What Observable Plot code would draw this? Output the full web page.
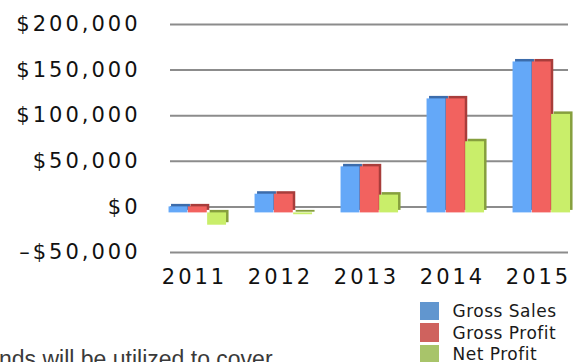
<!DOCTYPE html>
<html>
<head>
<meta charset="utf-8">
<script src="https://cdn.jsdelivr.net/npm/d3@7"></script>
<script src="https://cdn.jsdelivr.net/npm/@observablehq/plot@0.6"></script>
<style>
html, body { margin: 0; padding: 0; background: #fff; overflow: hidden; width: 582px; height: 362px; }
#wrap { position: relative; width: 582px; height: 362px; overflow: hidden; }
#chart { position: absolute; left: 0; top: 0; }
#legend { position: absolute; left: 420px; top: 300px; font-family: "DejaVu Sans", sans-serif; font-size: 17px; line-height: 20px; letter-spacing: 0.5px; color: #1a1a1a; }
#legend .row { display: flex; align-items: center; height: 21.7px; }
#legend .sw { width: 19px; height: 18.3px; margin-right: 13.5px; flex: none; }
#caption { position: absolute; left: -1px; top: 348px; font-family: "Liberation Sans", Arial, sans-serif; font-size: 23px; line-height: 23px; color: #3a3a3a; white-space: nowrap; }
</style>
</head>
<body>
<div id="wrap">
  <div id="chart"></div>
  <div id="legend"></div>
  <div id="caption">nds will be utilized to cover</div>
</div>
<script>
// ---- data ----
const years = ["2011", "2012", "2013", "2014", "2015"];
const grossSales = [6600, 20500, 50500, 125000, 165500];
const grossProfit = [6600, 20500, 50500, 125000, 165500];
const netProfit = [-13500, -2000, 19500, 78000, 108000];
const seriesNames = ["Gross Sales", "Gross Profit", "Net Profit"];
const yTicks = [-50000, 0, 50000, 100000, 150000, 200000];

// ---- styling per series ----
const seriesValues = [grossSales, grossProfit, netProfit];
const frontColors = ["#64a8f8", "#f2625f", "#c9ee6a"];
const sideColors = ["#3c6cab", "#a83d3b", "#869f3e"];
const swatchColors = ["#6196cf", "#cf625e", "#a8c46a"];
const offsets = [-16, 3.3, 22.6];

const inset = 33.55;
const marks = [Plot.ruleY(yTicks, {stroke: "#8c8c8c", strokeWidth: 2})];

seriesNames.forEach((name, k) => {
  const rows = years.map((year, i) => ({year, value: seriesValues[k][i], series: name}));
  marks.push(Plot.barY(rows, {x: "year", y: "value", fill: sideColors[k], dx: offsets[k] + 2.5, dy: 6 - 2.5, insetLeft: inset, insetRight: inset}));
  marks.push(Plot.barY(rows, {x: "year", y: "value", fill: frontColors[k], dx: offsets[k], dy: 6, insetLeft: inset, insetRight: inset}));
});

const fmt = d => d === 0 ? "$0" : (d < 0 ? "\u2013$" : "$") + d3.format(",")(Math.abs(d));

marks.push(Plot.axisY({ticks: yTicks, tickSize: 0, tickPadding: 30, tickFormat: fmt, fill: "#111", label: null}));
marks.push(Plot.axisX({tickSize: 0, tickPadding: 17, fill: "#111", label: null}));

const plot = Plot.plot({
  width: 582,
  height: 290,
  marginTop: 24,
  marginBottom: 38,
  marginLeft: 170,
  marginRight: 14,
  x: {domain: years, range: [150, 582], padding: 0, label: null},
  y: {domain: [-50000, 200000], label: null},
  style: {fontFamily: "'DejaVu Sans', sans-serif", fontSize: "21px", letterSpacing: "3px", background: "transparent", overflow: "visible"},
  marks
});
document.getElementById("chart").appendChild(plot);

const legend = document.getElementById("legend");
seriesNames.forEach((name, k) => {
  const row = document.createElement("div");
  row.className = "row";
  const sw = document.createElement("div");
  sw.className = "sw";
  sw.style.background = swatchColors[k];
  const label = document.createElement("span");
  label.textContent = name;
  row.appendChild(sw);
  row.appendChild(label);
  legend.appendChild(row);
});
</script>
</body>
</html>
